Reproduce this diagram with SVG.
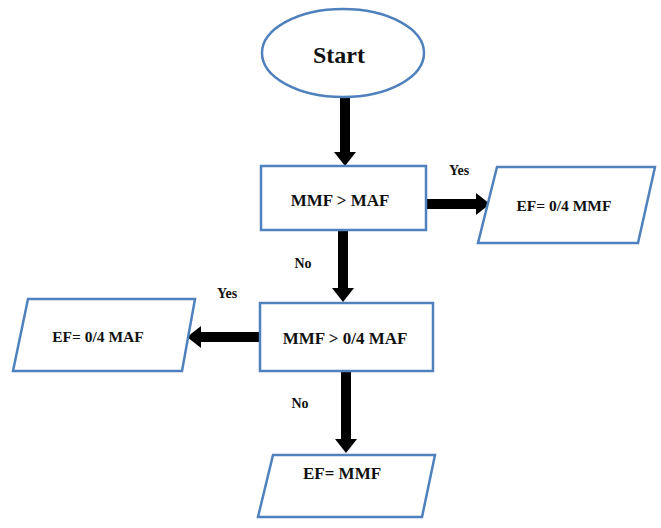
<svg xmlns="http://www.w3.org/2000/svg" width="661" height="528" viewBox="0 0 661 528">
<defs>
<style>
.shape{fill:#fff;stroke:#4f81bd;stroke-width:2.5}
.lbl{font-family:"Liberation Serif","Times New Roman",serif;font-weight:bold;font-size:15.5px;fill:#111;text-anchor:middle;dominant-baseline:central}
.big{font-size:17px}
.small{font-size:14px}
.conn{stroke:#000;stroke-width:10;fill:none}
</style>
<marker id="ah" viewBox="0 0 14 22" refX="0" refY="11" markerWidth="14" markerHeight="22" markerUnits="userSpaceOnUse" orient="auto">
<path d="M0,0 L14,11 L0,22 z" fill="#000"/>
</marker>
</defs>
<rect width="661" height="528" fill="#fff"/>
<g id="connectors">
<line class="conn" x1="345" y1="97" x2="345" y2="152" marker-end="url(#ah)"/>
<line class="conn" x1="426" y1="204" x2="476" y2="204" marker-end="url(#ah)"/>
<line class="conn" x1="343" y1="231" x2="343" y2="288" marker-end="url(#ah)"/>
<line class="conn" x1="260" y1="337" x2="201" y2="337" marker-end="url(#ah)"/>
<line class="conn" x1="346" y1="372" x2="346" y2="439" marker-end="url(#ah)"/>
<text class="lbl small" x="459" y="170">Yes</text>
<text class="lbl small" x="303" y="263">No</text>
<text class="lbl small" x="227" y="293">Yes</text>
<text class="lbl small" x="300" y="403">No</text>
</g>
<g id="start">
<ellipse class="shape" cx="343" cy="53" rx="81" ry="44"/>
<text class="lbl" x="339" y="55" style="font-size:24px">Start</text>
</g>
<g id="cond1">
<rect class="shape" x="261" y="166" width="165" height="64"/>
<text class="lbl big" x="340" y="200">MMF &gt; MAF</text>
</g>
<g id="out1">
<polygon class="shape" points="497,167 655,167 638,243 478,243"/>
<text class="lbl" x="564" y="205">EF= 0/4 MMF</text>
</g>
<g id="cond2">
<rect class="shape" x="260" y="303" width="173" height="68"/>
<text class="lbl big" x="345" y="338">MMF &gt; 0/4 MAF</text>
</g>
<g id="out2">
<polygon class="shape" points="28,299 195,299 182,371 13,371"/>
<text class="lbl" x="98" y="336">EF= 0/4 MAF</text>
</g>
<g id="out3">
<polygon class="shape" points="273,455 435,455 422,517 258,517"/>
<text class="lbl big" x="342" y="473">EF= MMF</text>
</g>
</svg>
